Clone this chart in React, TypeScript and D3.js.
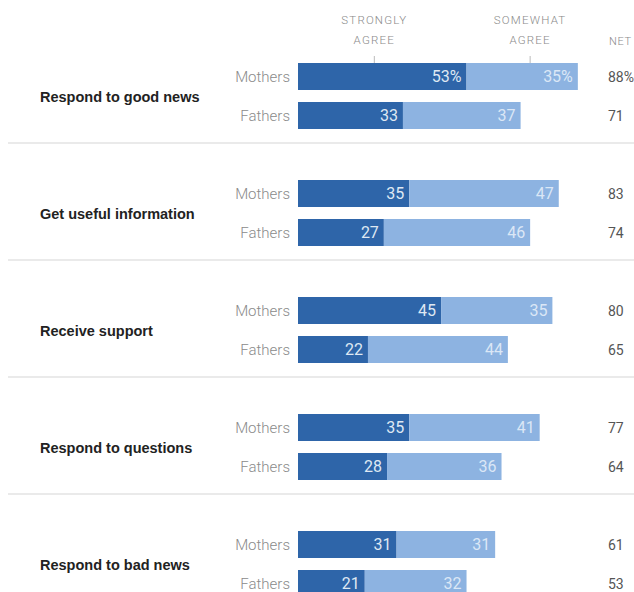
import React from "react";
import * as d3 from "d3";

const categories = [
  "Respond to good news",
  "Get useful information",
  "Receive support",
  "Respond to questions",
  "Respond to bad news",
];
const groups = ["Mothers", "Fathers"];
const mothersStrongly = [53, 35, 45, 35, 31];
const mothersSomewhat = [35, 47, 35, 41, 31];
const mothersNet = [88, 83, 80, 77, 61];
const fathersStrongly = [33, 27, 22, 28, 21];
const fathersSomewhat = [37, 46, 44, 36, 32];
const fathersNet = [71, 74, 65, 64, 53];
const headerLabels = [
  ["STRONGLY", "AGREE"],
  ["SOMEWHAT", "AGREE"],
];
const headerPositions = [24, 73];

const W = 634;
const H = 592;
const DARK = "#2e65a9";
const LIGHT = "#8db3e1";
const FONT = "'Roboto', 'Liberation Sans', sans-serif";

export default function App() {
  const x = d3.scaleLinear().domain([0, 100]).range([298, 616]);
  const rowY = d3.scaleLinear().domain([0, 1]).range([63, 180]);
  const barH = 27;
  const subStep = 39;

  const data = categories.map((c, i) => ({
    cat: c,
    rows: [
      { g: groups[0], s: mothersStrongly[i], w: mothersSomewhat[i], net: mothersNet[i] },
      { g: groups[1], s: fathersStrongly[i], w: fathersSomewhat[i], net: fathersNet[i] },
    ],
  }));

  return (
    <div style={{ position: "absolute", left: 0, top: 0 }}>
      <svg width={W} height={H} style={{ display: "block", background: "#fff" }} fontFamily={FONT}>
        {headerLabels.map((lines, i) => (
          <g key={i}>
            {lines.map((t, j) => (
              <text
                key={j}
                x={x(headerPositions[i])}
                y={24 + j * 20}
                textAnchor="middle"
                fontSize={11.5}
                fill="#8a8a8a"
                letterSpacing={1.2}
                fontWeight={300}
              >
                {t}
              </text>
            ))}
            <line
              x1={x(headerPositions[i])}
              x2={x(headerPositions[i])}
              y1={56}
              y2={63}
              stroke="#bbb"
              strokeWidth={1}
            />
          </g>
        ))}
        <text x={609} y={45} fontSize={11} fill="#8a8a8a" letterSpacing={0.6} fontWeight={300}>
          NET
        </text>
        {data.map((d, i) => {
          const top = rowY(i);
          return (
            <g key={d.cat}>
              {i > 0 && (
                <line x1={8} x2={W} y1={top - 37} y2={top - 37} stroke="#e3e3e3" strokeWidth={1.5} />
              )}
              <text
                x={40}
                y={top + 34 + 5}
                fontSize={14.5}
                fontWeight="bold"
                fill="#222"
                fontFamily="'Liberation Sans', Arial, sans-serif"
              >
                {d.cat}
              </text>
              {d.rows.map((r, j) => {
                const y = top + j * subStep;
                const cy = y + barH / 2;
                const first = i === 0 && j === 0;
                return (
                  <g key={r.g}>
                    <text x={290} y={cy + 5} textAnchor="end" fontSize={15} fill="#8a8a8a" fontWeight={300}>
                      {r.g}
                    </text>
                    <rect x={x(0)} y={y} width={x(r.s) - x(0)} height={barH} fill={DARK} />
                    <rect x={x(r.s)} y={y} width={x(r.s + r.w) - x(r.s)} height={barH} fill={LIGHT} />
                    <text x={x(r.s) - 5} y={cy + 5.5} textAnchor="end" fontSize={16} fill="#dfe8f3">
                      {r.s}
                      {first ? "%" : ""}
                    </text>
                    <text x={x(r.s + r.w) - 5} y={cy + 5.5} textAnchor="end" fontSize={16} fill="#dbe7f6">
                      {r.w}
                      {first ? "%" : ""}
                    </text>
                    <text x={608} y={cy + 5.5} fontSize={14} fill="#555">
                      {r.net}
                      {first ? "%" : ""}
                    </text>
                  </g>
                );
              })}
            </g>
          );
        })}
      </svg>
    </div>
  );
}
